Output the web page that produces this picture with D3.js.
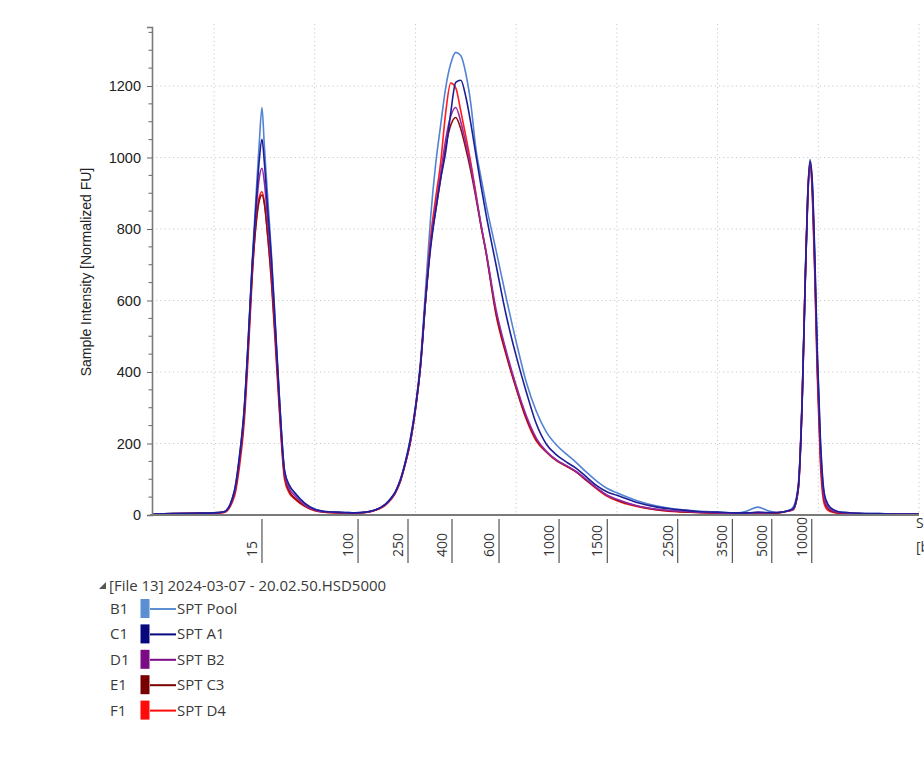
<!DOCTYPE html>
<html>
<head>
<meta charset="utf-8">
<script src="https://cdn.jsdelivr.net/npm/d3@7"></script>
<style>
  body { margin: 0; background: #fff; overflow: hidden; }
  svg { display: block; }
</style>
</head>
<body>
<svg id="chart" width="924" height="782"></svg>
<script>
// migration time (s) of every sample point
var timeSec = [14, 16, 18, 20, 21, 22, 22.5, 23, 23.4, 23.8, 24.2, 24.5, 24.76, 25, 25.3, 25.7, 26.1, 26.5, 27, 27.5, 28,
  29, 30, 31, 32, 33, 34, 35, 36, 37, 37.5, 38, 38.5, 39, 39.5, 40, 40.5, 41, 41.5, 42, 42.5, 43, 43.5, 44, 44.5, 45,
  45.5, 46, 46.5, 47, 48, 49, 50, 51, 52, 53, 54, 55, 56, 57, 58, 59, 60, 62, 64, 66, 68, 70, 72, 73, 74, 75, 76, 77,
  77.5, 78, 78.4, 78.7, 78.95, 79.18, 79.4, 79.65, 79.9, 80.2, 80.6, 81, 81.5, 82, 84, 86, 88, 90];

// normalized FU per well
var sptPool = [3, 4, 5, 6, 9,
  65, 160, 300, 495, 714, 907, 1045, 1140, 1030, 900, 730, 530, 325, 125, 80, 62,
  32, 16, 10, 8, 7, 6, 8, 14,
  30, 45, 65, 100, 150, 215, 305, 430, 630, 830, 980, 1090, 1195, 1262, 1294, 1285, 1235, 1150, 1025, 945, 870,
  741, 609, 485, 372, 290, 232, 196, 170, 146, 119, 95, 75, 62,
  40, 25, 16, 11, 8, 6, 12, 22, 12, 7, 12,
  22, 80, 330, 660, 900, 995, 930, 720, 450, 210, 55, 25, 14, 9,
  5, 4, 3, 3];
var sptA1 = [3, 4, 5, 6, 9,
  65, 158, 298, 490, 705, 880, 995, 1051, 985, 865, 715, 520, 322, 124, 82, 63,
  33, 16, 10, 8, 7, 6, 8, 14,
  30, 45, 65, 98, 148, 212, 300, 420, 600, 745, 850, 940, 1015, 1125, 1210, 1216, 1170, 1095, 1008, 922, 842,
  700, 560, 445, 345, 255, 198, 168, 148, 130, 106, 82, 65, 55,
  35, 22, 15, 10, 8, 6, 6, 8, 7, 7, 12,
  18, 75, 320, 650, 890, 990, 935, 730, 460, 220, 60, 28, 15, 9,
  5, 4, 3, 3];
var sptB2 = [3, 4, 5, 6, 8,
  60, 150, 290, 485, 700, 860, 945, 970, 930, 830, 690, 510, 315, 118, 72, 55,
  28, 14, 9, 7, 6, 6, 7, 14,
  29, 43, 63, 96, 146, 207, 298, 418, 600, 760, 860, 955, 1050, 1115, 1140, 1100, 1040, 975, 895, 815, 740,
  575, 460, 362, 278, 215, 178, 154, 138, 121, 99, 76, 56, 44,
  26, 16, 11, 8, 6, 5, 5, 6, 6, 7, 11,
  16, 70, 320, 650, 885, 985, 920, 700, 430, 190, 45, 20, 11, 7,
  4, 3, 3, 3];
var sptC3 = [3, 4, 5, 6, 8,
  58, 145, 280, 475, 680, 820, 880, 895, 870, 790, 660, 490, 300, 110, 65, 48,
  26, 13, 8, 7, 6, 6, 7, 13,
  28, 42, 62, 95, 145, 205, 296, 416, 598, 755, 850, 940, 1030, 1090, 1112, 1080, 1025, 962, 888, 810, 736,
  565, 452, 356, 272, 211, 177, 153, 137, 120, 97, 75, 55, 42,
  25, 15, 10, 7, 5, 4, 4, 5, 5, 6, 11,
  15, 68, 315, 645, 880, 980, 910, 690, 415, 175, 40, 17, 9, 6,
  4, 3, 3, 3];
var sptD4 = [2, 3, 4, 5, 7,
  50, 130, 260, 450, 670, 830, 890, 904, 875, 790, 650, 470, 285, 100, 60, 45,
  24, 12, 8, 6, 6, 5, 7, 13,
  27, 41, 61, 94, 144, 204, 294, 414, 600, 775, 885, 985, 1125, 1208, 1195, 1130, 1060, 985, 900, 810, 735,
  560, 448, 354, 268, 207, 176, 152, 136, 119, 96, 73, 53, 40,
  24, 14, 9, 7, 5, 4, 4, 5, 5, 6, 11,
  15, 72, 330, 660, 895, 988, 900, 670, 390, 150, 30, 12, 7, 5,
  3, 3, 2, 2];

var wells = ["B1", "C1", "D1", "E1", "F1"];
var sampleNames = ["SPT Pool", "SPT A1", "SPT B2", "SPT C3", "SPT D4"];
var sampleValues = [sptPool, sptA1, sptB2, sptC3, sptD4];
var lineColors = ["#5283d4", "#1e1e98", "#962aa6", "#8c0d0d", "#ff1c1c"];
var swatchColors = ["#5b8fd2", "#08087e", "#7b0a86", "#780000", "#ff0a0a"];

// ladder sizes and their migration times
var ladderBp = [15, 100, 250, 400, 600, 1000, 1500, 2500, 3500, 5000, 10000];
var ladderSec = [24.76, 34.30, 39.26, 43.63, 48.30, 54.26, 59.05, 66.04, 71.47, 75.38, 79.35];

var yMajor = [0, 200, 400, 600, 800, 1000, 1200];
var yMinor = [50, 100, 150, 250, 300, 350, 450, 500, 550, 650, 700, 750, 850, 900, 950, 1050, 1100, 1150, 1250, 1300, 1350];
var gridSec = [20, 30, 40, 50, 60, 70, 80, 90];

var fileTitle = "[File 13] 2024-03-07 - 20.02.50.HSD5000";

var svg = d3.select("#chart");

var x = d3.scaleLinear().domain([13.84, 90]).range([152, 919]);
var y = d3.scaleLinear().domain([0, 1365]).range([515, 27]);

// grid
var grid = svg.append("g").attr("stroke", "#c9c9c9").attr("stroke-dasharray", "1.2,3").attr("stroke-width", 1);
grid.selectAll("line.gx").data(gridSec).enter().append("line")
  .attr("x1", function(d) { return x(d); }).attr("x2", function(d) { return x(d); })
  .attr("y1", y.range()[1] - 3).attr("y2", y(0));
grid.selectAll("line.gy").data(yMajor.slice(1)).enter().append("line")
  .attr("x1", x.range()[0]).attr("x2", x.range()[1])
  .attr("y1", function(d) { return y(d); }).attr("y2", function(d) { return y(d); });

// traces
var line = d3.line()
  .x(function(d, i) { return x(timeSec[i]); })
  .y(function(d) { return y(d); })
  .curve(d3.curveMonotoneX);

var order = [0, 4, 3, 2, 1];
svg.append("g").selectAll("path").data(order).enter().append("path")
  .attr("d", function(k) { return line(sampleValues[k]); })
  .attr("fill", "none")
  .attr("stroke", function(k) { return lineColors[k]; })
  .attr("stroke-width", 1.6)
  .attr("stroke-linejoin", "round");

// y axis
var yAxis = svg.append("g").attr("transform", "translate(152,0)")
  .call(d3.axisLeft(y).tickValues(yMajor).tickFormat(d3.format("d")).tickSize(5).tickPadding(6));
yAxis.select(".domain").attr("stroke", "#7a7a7a").attr("stroke-width", 1.6);
yAxis.selectAll(".tick line").attr("stroke", "#666");
yAxis.selectAll(".tick text")
  .attr("font-family", "'Liberation Sans', Arial, sans-serif")
  .attr("font-size", 14.5).attr("fill", "#222");
yAxis.selectAll("line.minor").data(yMinor).enter().append("line")
  .attr("class", "minor")
  .attr("x1", -3.5).attr("x2", 0)
  .attr("y1", function(d) { return y(d); }).attr("y2", function(d) { return y(d); })
  .attr("stroke", "#666");

svg.append("text")
  .attr("transform", "translate(91,272) rotate(-90)")
  .attr("text-anchor", "middle")
  .attr("font-family", "'Liberation Sans', Arial, sans-serif")
  .attr("font-size", 14).attr("fill", "#222")
  .text("Sample Intensity [Normalized FU]");

// x axis line
svg.append("line")
  .attr("x1", 150).attr("x2", x.range()[1])
  .attr("y1", y(0)).attr("y2", y(0))
  .attr("stroke", "#7a7a7a").attr("stroke-width", 2);

// ladder marks below the axis
var ladder = svg.append("g");
ladder.selectAll("line").data(ladderSec).enter().append("line")
  .attr("x1", function(d) { return x(d); }).attr("x2", function(d) { return x(d); })
  .attr("y1", 519).attr("y2", 563)
  .attr("stroke", "#555").attr("stroke-width", 1.2);
ladder.selectAll("text").data(ladderBp).enter().append("text")
  .attr("transform", function(d, i) { return "translate(" + (x(ladderSec[i]) - 5) + ",557) rotate(-90)"; })
  .attr("font-family", "'Open Sans', 'Noto Sans', sans-serif")
  .attr("font-size", 14).attr("fill", "#333")
  .text(function(d) { return d; });

var xt = svg.append("text")
  .attr("font-family", "'Open Sans', 'Noto Sans', sans-serif")
  .attr("font-size", 14).attr("fill", "#333");
xt.append("tspan").attr("x", 916).attr("y", 528).text("Size");
xt.append("tspan").attr("x", 916).attr("y", 552).text("[bp]");

// legend
var legend = svg.append("g")
  .attr("font-family", "'Open Sans', 'Noto Sans', sans-serif")
  .attr("font-size", 15).attr("fill", "#3a3a3a");
legend.append("path").attr("d", "M106,582 L106,589 L99,589 Z").attr("fill", "#555");
legend.append("text").attr("x", 109).attr("y", 591).text(fileTitle);

var rows = legend.selectAll("g.row").data(wells).enter().append("g")
  .attr("class", "row")
  .attr("transform", function(d, i) { return "translate(0," + (609 + i * 25.4) + ")"; });
rows.append("text").attr("x", 110).attr("y", 5).text(function(d) { return d; });
rows.append("rect").attr("x", 140.5).attr("y", -10).attr("width", 9).attr("height", 19)
  .attr("fill", function(d, i) { return swatchColors[i]; });
rows.append("line").attr("x1", 150).attr("x2", 176).attr("y1", 0).attr("y2", 0)
  .attr("stroke", function(d, i) { return swatchColors[i]; }).attr("stroke-width", 2);
rows.append("text").attr("x", 177).attr("y", 5).text(function(d, i) { return sampleNames[i]; });
</script>
</body>
</html>
